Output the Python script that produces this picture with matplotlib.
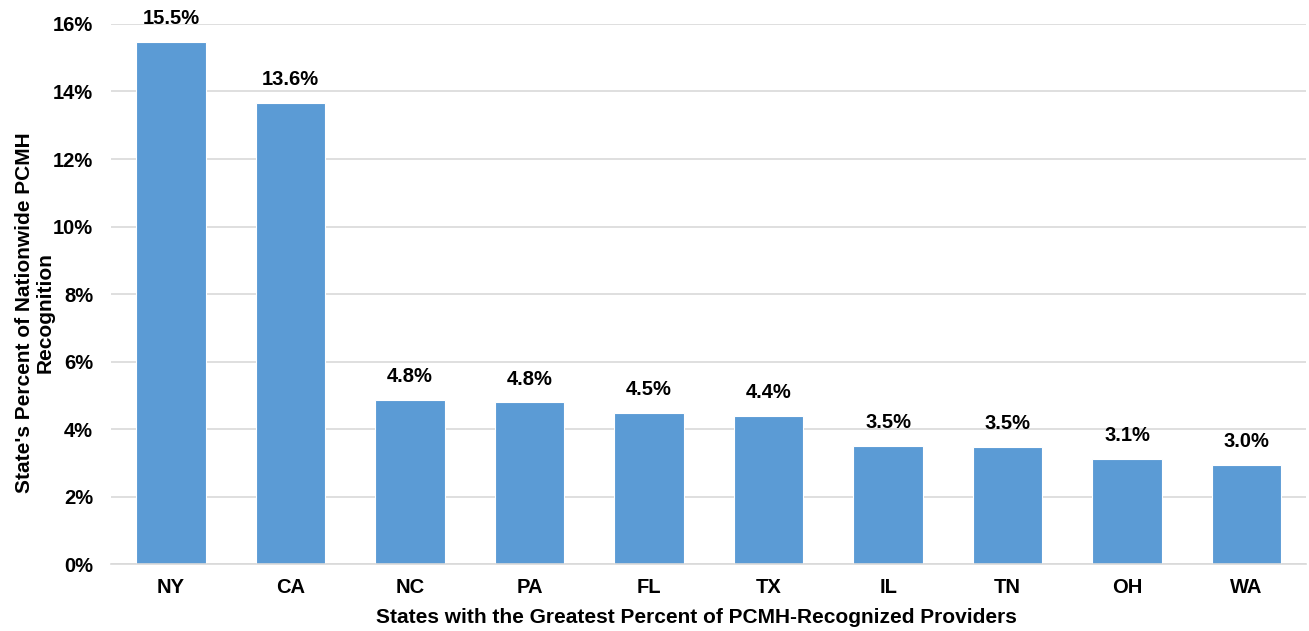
import numpy as np
from matplotlib import pyplot as plt
from matplotlib.ticker import FuncFormatter

states = ['NY', 'CA', 'NC', 'PA', 'FL', 'TX', 'IL', 'TN', 'OH', 'WA']
pct = [15.47, 13.65, 4.85, 4.79, 4.47, 4.39, 3.51, 3.48, 3.12, 2.95]
labels = ['15.5%', '13.6%', '4.8%', '4.8%', '4.5%', '4.4%', '3.5%', '3.5%', '3.1%', '3.0%']

plt.rcParams['font.family'] = ['Liberation Sans', 'DejaVu Sans']
plt.rcParams['font.weight'] = 'bold'

fig = plt.figure(figsize=(13.09, 6.31), dpi=100)
ax = fig.add_axes([0.085, 0.106, 0.913, 0.856])

x = np.arange(len(states))
bars = ax.bar(x, pct, width=0.58, color='#5B9BD5', edgecolor='white', linewidth=0.8, zorder=2)

for b, lab in zip(bars, labels):
	ax.annotate(lab, (b.get_x() + b.get_width() / 2, b.get_height()),
		xytext=(0, 10), textcoords='offset points', ha='center', va='bottom',
		fontsize=14.5, fontweight='bold', annotation_clip=False)

ax.set_xlim(-0.5, len(states) - 0.5)
ax.set_ylim(0, 16)
ax.set_yticks(np.arange(0, 17, 2))
ax.yaxis.set_major_formatter(FuncFormatter(lambda v, p: '%d%%' % v))
ax.set_xticks(x)
ax.set_xticklabels(states)
ax.tick_params(axis='both', length=0, labelsize=14.5)
ax.tick_params(axis='y', pad=13)
ax.tick_params(axis='x', pad=10)

ax.grid(axis='y', color='#D9D9D9', linewidth=1.2, zorder=0)
for s in ['top', 'right', 'left']:
	ax.spines[s].set_visible(False)
ax.spines['bottom'].set_color('#D9D9D9')
ax.spines['bottom'].set_linewidth(1.2)

ax.set_xlabel('States with the Greatest Percent of PCMH-Recognized Providers', fontsize=15, fontweight='bold')
ax.xaxis.set_label_coords(0.49, -0.082)
ax.set_ylabel("State's Percent of Nationwide PCMH\nRecognition", fontsize=15, fontweight='bold', linespacing=1.15)
ax.yaxis.set_label_coords(-0.047, 0.465)

plt.savefig('out.png', dpi=100)
